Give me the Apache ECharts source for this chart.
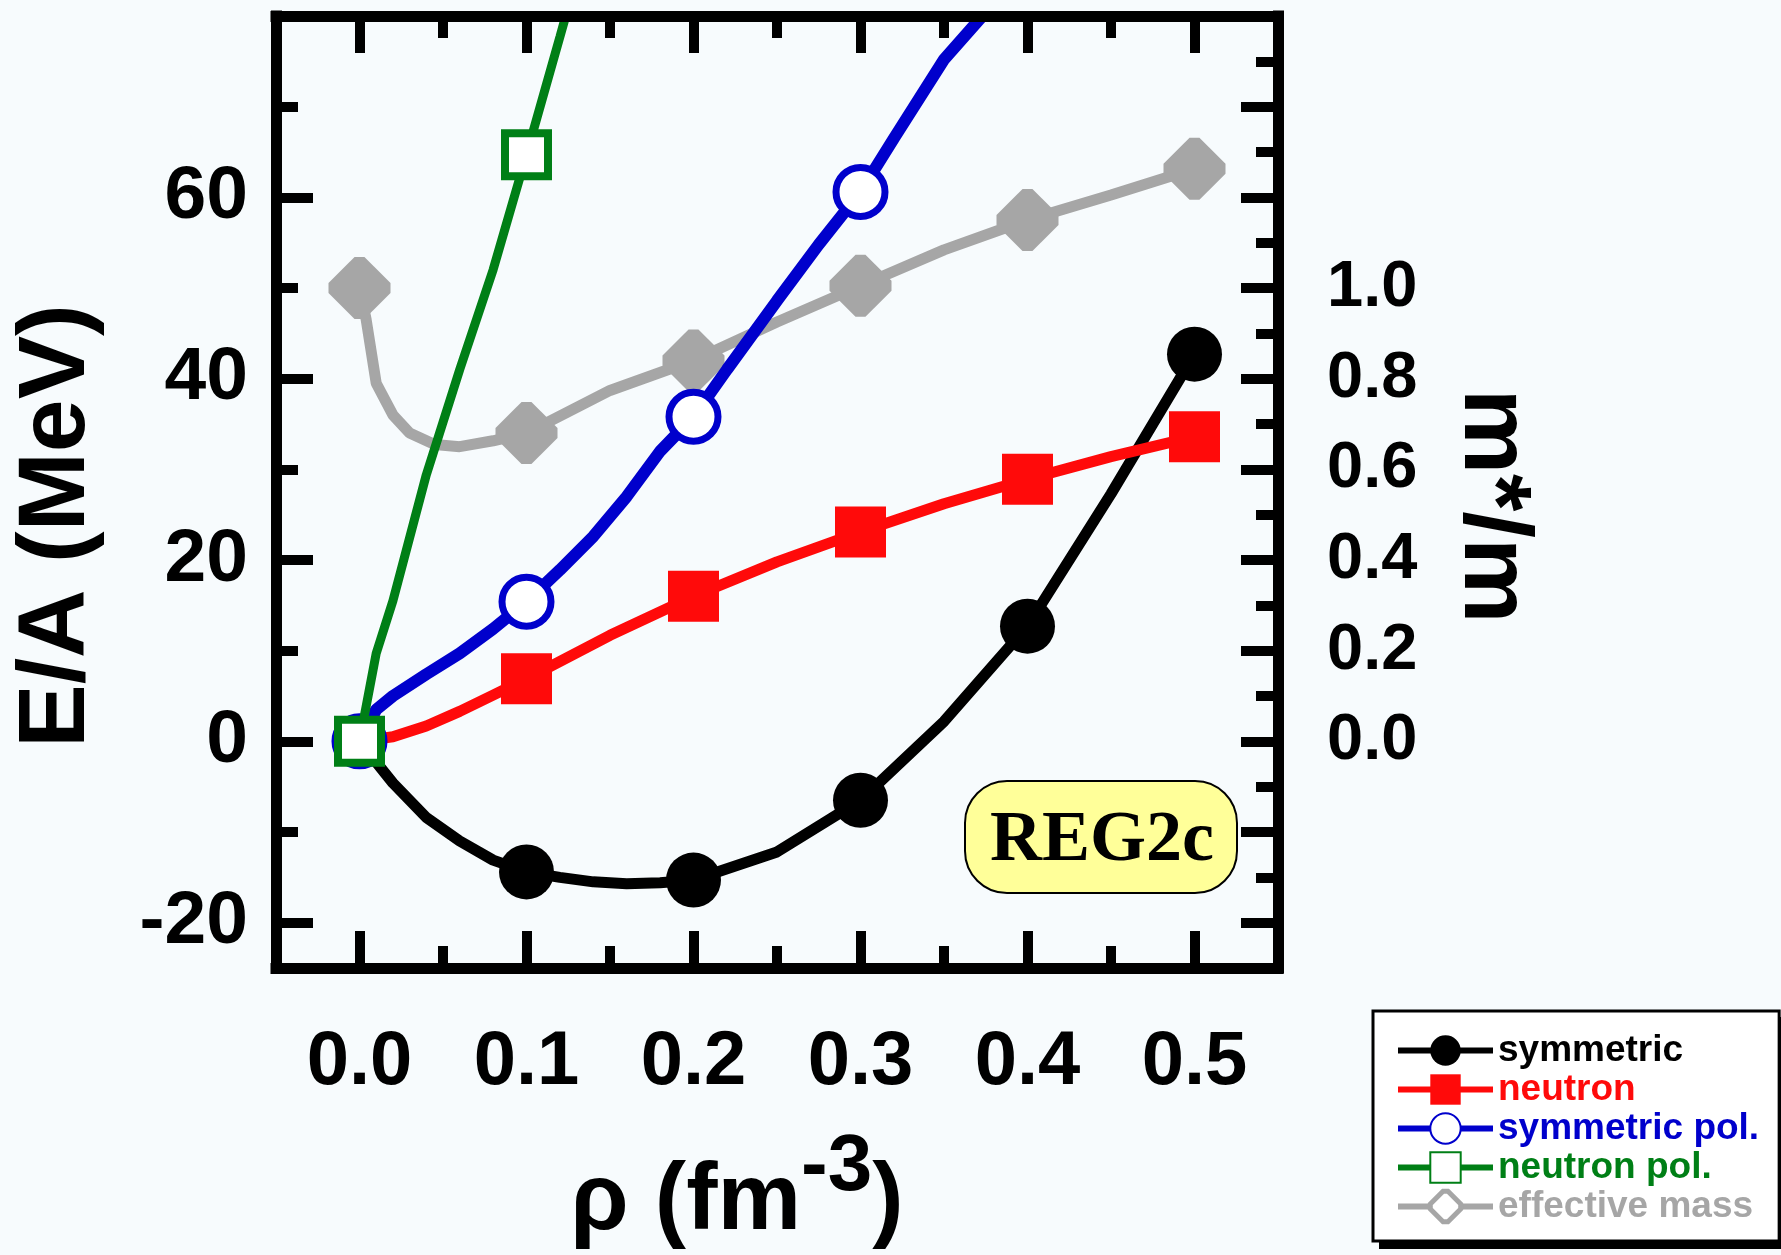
<!DOCTYPE html>
<html>
<head>
<meta charset="utf-8">
<script src="https://cdn.jsdelivr.net/npm/echarts@6/dist/echarts.min.js"></script>
<style>
html,body{margin:0;padding:0;background:#f7fbfd;}
#chart{width:1781px;height:1255px;}
</style>
</head>
<body>
<div id="chart"></div>
<script>
// ---- axis ticks / labels ----
const rhoTicksMajor = [0, 0.1, 0.2, 0.3, 0.4, 0.5];
const rhoTicksMinor = [0.05, 0.15, 0.25, 0.35, 0.45];
const energyTicksMajor = [-20, 0, 20, 40, 60];
const energyTicksMinor = [-10, 10, 30, 50, 70];
const massTicksMajor = [-0.4, -0.2, 0, 0.2, 0.4, 0.6, 0.8, 1.0, 1.2, 1.4];
const massTicksMinor = [-0.3, -0.1, 0.1, 0.3, 0.5, 0.7, 0.9, 1.1, 1.3, 1.5];
const massTickLabels = [0, 0.2, 0.4, 0.6, 0.8, 1.0];

// ---- series: markers [rho, value] and intermediate curve points ----
const symmetricMarkers = [[0.1, -14.4], [0.2, -15.3], [0.3, -6.5], [0.4, 12.7], [0.5, 42.7]];
const symmetricCurve = [[0, 0], [0.02, -4.6], [0.04, -8.4], [0.06, -11.0], [0.08, -13.1], [0.12, -15.0], [0.14, -15.5], [0.16, -15.7], [0.18, -15.6], [0.25, -12.2], [0.35, 2.2], [0.45, 27.3]];

const neutronMarkers = [[0.1, 6.9], [0.2, 16.0], [0.3, 23.1], [0.4, 28.9], [0.5, 33.6]];
const neutronCurve = [[0, 0], [0.02, 0.5], [0.04, 1.7], [0.06, 3.3], [0.08, 5.1], [0.15, 11.7], [0.25, 19.8], [0.35, 26.2], [0.45, 31.4]];

const symPolMarkers = [[0, 0], [0.1, 15.4], [0.2, 35.8], [0.3, 60.6]];
const symPolCurve = [[0.01, 3.5], [0.02, 5.0], [0.04, 7.4], [0.06, 9.7], [0.08, 12.4], [0.12, 18.9], [0.14, 22.6], [0.16, 27.0], [0.18, 32.0], [0.22, 41.0], [0.25, 48.6], [0.275, 54.8], [0.32, 66.5], [0.35, 75.2], [0.373, 80]];

const neutPolMarkers = [[0, 0], [0.1, 64.7]];
const neutPolCurve = [[0.01, 9.7], [0.02, 15.5], [0.04, 29.4], [0.06, 41.0], [0.08, 52.0], [0.12, 77.7], [0.1235, 80]];

const effMassMarkers = [[0, 1.0], [0.1, 0.68], [0.2, 0.84], [0.3, 1.005], [0.4, 1.15], [0.5, 1.263]];
const effMassCurve = [[0.004, 0.93], [0.01, 0.79], [0.02, 0.72], [0.03, 0.68], [0.045, 0.655], [0.06, 0.65], [0.08, 0.663], [0.15, 0.774], [0.25, 0.925], [0.35, 1.084], [0.45, 1.205]];

function build(curve, markers) {
  const pts = curve.map(p => ({ value: p, symbol: 'none' }))
    .concat(markers.map(p => ({ value: p })));
  pts.sort((a, b) => a.value[0] - b.value[0]);
  return pts;
}

const C_BLACK = '#000000', C_RED = '#ff0a0a', C_BLUE = '#0000cc', C_GREEN = '#007f16', C_GREY = '#a6a6a6';
const FONT = '"Liberation Sans", Arial, sans-serif';
const OCT = 'path://M42,0L58,0L100,42L100,58L58,100L42,100L0,58L0,42Z';

function xAx(pos, major) {
  return {
    type: 'value', min: -0.05, max: 0.55, position: pos, z: 10,
    axisLine: { show: major, onZero: false, lineStyle: { color: '#000', width: 11, cap: 'square' } },
    axisTick: { show: true, inside: true, length: major ? 37 : 22, customValues: major ? rhoTicksMajor : rhoTicksMinor,
      lineStyle: { color: '#000', width: 10 } },
    axisLabel: (major && pos === 'bottom') ? { show: true, customValues: rhoTicksMajor, formatter: v => v.toFixed(1),
      margin: 57, fontSize: 76, fontWeight: 'bold', fontFamily: FONT, color: '#000' } : { show: false },
    splitLine: { show: false }
  };
}
function yAxE(major) {
  return {
    type: 'value', min: -25, max: 80, position: 'left', z: 10,
    axisLine: { show: major, onZero: false, lineStyle: { color: '#000', width: 11, cap: 'square' } },
    axisTick: { show: true, inside: true, length: major ? 37 : 22, customValues: major ? energyTicksMajor : energyTicksMinor,
      lineStyle: { color: '#000', width: 10 } },
    axisLabel: major ? { show: true, customValues: energyTicksMajor, margin: 28, fontSize: 75, fontWeight: 'bold', fontFamily: FONT, color: '#000' } : { show: false },
    splitLine: { show: false }
  };
}
function yAxM(major) {
  return {
    type: 'value', min: -0.5, max: 1.6, position: 'right', z: 10,
    axisLine: { show: major, onZero: false, lineStyle: { color: '#000', width: 11, cap: 'square' } },
    axisTick: { show: true, inside: true, length: major ? 37 : 22, customValues: major ? massTicksMajor : massTicksMinor,
      lineStyle: { color: '#000', width: 10 } },
    axisLabel: major ? { show: true, customValues: massTickLabels, formatter: v => v.toFixed(1), margin: 49, fontSize: 65, fontWeight: 'bold', fontFamily: FONT, color: '#000' } : { show: false },
    splitLine: { show: false }
  };
}

const chart = echarts.init(document.getElementById('chart'), null, { renderer: 'canvas' });
chart.setOption({
  animation: false,
  backgroundColor: '#f7fbfd',
  grid: { left: 276, right: 503, top: 16, bottom: 287, show: false },
  xAxis: [xAx('bottom', true), xAx('bottom', false), xAx('top', true), xAx('top', false)],
  yAxis: [yAxE(true), yAxE(false), yAxM(true), yAxM(false)],
  legend: {
    orient: 'vertical', left: 1373, top: 1011,
    padding: [21, 20, 16, 22],
    itemWidth: 95, itemHeight: 38, itemGap: 2,
    backgroundColor: '#ffffff', borderColor: '#000', borderWidth: 3, borderRadius: 0,
    selectedMode: false,
    lineStyle: { width: 6 },
    textStyle: { fontSize: 37, fontWeight: 'bold', fontFamily: FONT },
    data: [
      { name: 'symmetric', textStyle: { color: C_BLACK } },
      { name: 'neutron', textStyle: { color: C_RED } },
      { name: 'symmetric pol.', textStyle: { color: C_BLUE } },
      { name: 'neutron pol.', textStyle: { color: C_GREEN } },
      { name: 'effective mass', textStyle: { color: C_GREY }, itemStyle: { color: '#ffffff', borderColor: C_GREY, borderWidth: 5 } }
    ]
  },
  series: [
    { name: 'effective mass', type: 'line', xAxisIndex: 0, yAxisIndex: 2, data: build(effMassCurve, effMassMarkers),
      color: C_GREY, lineStyle: { color: C_GREY, width: 11 }, symbol: OCT, symbolSize: 62, showAllSymbol: true,
      itemStyle: { color: C_GREY }, z: 2 },
    { name: 'symmetric', type: 'line', xAxisIndex: 0, yAxisIndex: 0, data: build(symmetricCurve, symmetricMarkers),
      color: C_BLACK, lineStyle: { color: C_BLACK, width: 11 }, symbol: 'circle', symbolSize: 55, showAllSymbol: true,
      itemStyle: { color: C_BLACK }, z: 3 },
    { name: 'neutron', type: 'line', xAxisIndex: 0, yAxisIndex: 0, data: build(neutronCurve, neutronMarkers),
      color: C_RED, lineStyle: { color: C_RED, width: 11 }, symbol: 'rect', symbolSize: 51, showAllSymbol: true,
      itemStyle: { color: C_RED }, z: 3 },
    { name: 'symmetric pol.', type: 'line', xAxisIndex: 0, yAxisIndex: 0, data: build(symPolCurve, symPolMarkers),
      color: C_BLUE, lineStyle: { color: C_BLUE, width: 12 }, symbol: 'circle', symbolSize: 49, showAllSymbol: true,
      itemStyle: { color: '#ffffff', borderColor: C_BLUE, borderWidth: 7 }, z: 4 },
    { name: 'neutron pol.', type: 'line', xAxisIndex: 0, yAxisIndex: 0, data: build(neutPolCurve, neutPolMarkers),
      color: C_GREEN, lineStyle: { color: C_GREEN, width: 9 }, symbol: 'rect', symbolSize: 43, showAllSymbol: true,
      itemStyle: { color: '#ffffff', borderColor: C_GREEN, borderWidth: 8 }, z: 5 }
  ],
  graphic: [
    { type: 'rect', z: 1, shape: { x: 1379, y: 1017, width: 403, height: 232 },
      style: { fill: '#000' } },
    { type: 'text', x: 58, y: 526, rotation: Math.PI / 2, z: 20,
      style: { text: 'E/A (MeV)', font: 'bold 95px ' + FONT, fill: '#000', align: 'center', verticalAlign: 'middle' } },
    { type: 'text', x: 1491, y: 506, rotation: -Math.PI / 2, z: 20,
      style: { text: 'm*/m', font: 'bold 96px ' + FONT, fill: '#000', align: 'center', verticalAlign: 'middle' } },
    { type: 'text', x: 737, y: 1203, z: 20,
      style: { text: '{a|ρ (fm}{b|-3}{a|)}', align: 'center', verticalAlign: 'middle', fill: '#000',
        rich: {
          a: { fontSize: 94, fontWeight: 'bold', fontFamily: FONT, fill: '#000' },
          b: { fontSize: 80, fontWeight: 'bold', fontFamily: FONT, fill: '#000', padding: [0, 0, 70, 0] }
        } } },
    { type: 'rect', z: 20, shape: { x: 965, y: 781, width: 272, height: 112, r: 42 },
      style: { fill: '#ffff99', stroke: '#000', lineWidth: 2 } },
    { type: 'text', x: 1102, y: 841, z: 21,
      style: { text: 'REG2c', font: 'bold 72px "Liberation Serif", "Times New Roman", serif', fill: '#000', align: 'center', verticalAlign: 'middle' } }
  ]
});
</script>
</body>
</html>
